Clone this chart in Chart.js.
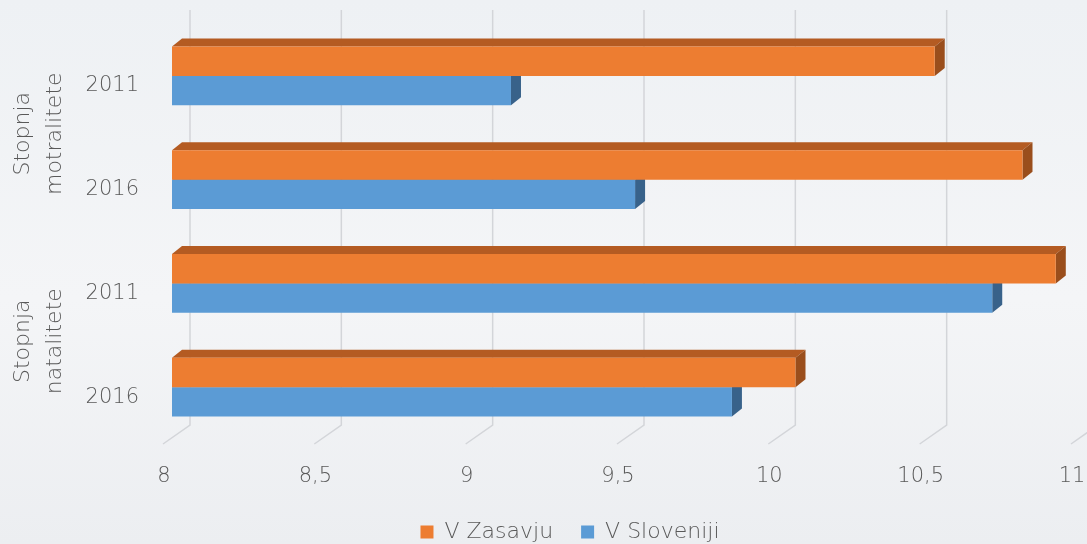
<!DOCTYPE html>
<html>
<head>
<meta charset="utf-8">
<script src="https://cdn.jsdelivr.net/npm/chart.js@4"></script>
<style>
  html, body { margin: 0; padding: 0; }
  body {
    width: 1087px; height: 544px; overflow: hidden;
    background: linear-gradient(#eef1f4, #f4f5f7 55%, #eceef1);
  }
  #wrap { position: relative; width: 1087px; height: 544px; }
</style>
</head>
<body>
<div id="wrap"><canvas id="chart"></canvas></div>
<script>
const categories = ["2011", "2016", "2011", "2016"];
const groupLabels = [["Stopnja", "motralitete"], ["Stopnja", "natalitete"]];
const seriesNames = ["V Zasavju", "V Sloveniji"];
const zasavje = [10.52, 10.81, 10.92, 10.06];
const slovenija = [9.12, 9.53, 10.71, 9.85];
const xMin = 8, xMax = 11, xStep = 0.5;

const FONT = "'DejaVu Sans', sans-serif";
const WEIGHT = "200";
const TEXT = "#595959";
const DX = 10, DY = 8;   // depth of the 3D faces

// back wall grid + top/side faces, drawn under the front faces
const depthFaces = {
  id: "depthFaces",
  beforeDatasetsDraw(chart) {
    const ctx = chart.ctx;
    const xs = chart.scales.x;
    const area = chart.chartArea;
    ctx.save();
    ctx.strokeStyle = "#d3d5d9";
    ctx.lineWidth = 1.5;
    for (let v = xMin; v <= xMax; v += xStep) {
      const px = xs.getPixelForValue(v);
      ctx.beginPath();
      ctx.moveTo(px + 18, area.top - 14);
      ctx.lineTo(px + 18, area.bottom - 14);
      ctx.lineTo(px - 9, area.bottom + 5);
      ctx.stroke();
    }
    chart.data.datasets.forEach((ds, i) => {
      chart.getDatasetMeta(i).data.forEach(bar => {
        const top = bar.y - bar.height / 2;
        const bottom = bar.y + bar.height / 2;
        const left = Math.max(bar.base, area.left);
        ctx.fillStyle = ds.topColor;
        ctx.beginPath();
        ctx.moveTo(left, top);
        ctx.lineTo(left + DX, top - DY);
        ctx.lineTo(bar.x + DX, top - DY);
        ctx.lineTo(bar.x, top);
        ctx.closePath();
        ctx.fill();
        ctx.fillStyle = ds.sideColor;
        ctx.beginPath();
        ctx.moveTo(bar.x, top);
        ctx.lineTo(bar.x + DX, top - DY);
        ctx.lineTo(bar.x + DX, bottom - DY);
        ctx.lineTo(bar.x, bottom);
        ctx.closePath();
        ctx.fill();
      });
    });
    ctx.restore();
  }
};

// rotated group titles on the left
const groupTitles = {
  id: "groupTitles",
  afterDraw(chart) {
    const ctx = chart.ctx;
    const ys = chart.scales.y;
    ctx.save();
    ctx.fillStyle = TEXT;
    ctx.font = WEIGHT + " 22px " + FONT;
    ctx.textAlign = "center";
    ctx.textBaseline = "alphabetic";
    groupLabels.forEach((lines, g) => {
      const yc = (ys.getPixelForValue(2 * g) + ys.getPixelForValue(2 * g + 1)) / 2 + 6;
      [29, 61].forEach((bx, k) => {
        ctx.save();
        ctx.translate(bx, yc);
        ctx.rotate(-Math.PI / 2);
        ctx.fillText(lines[k], 0, 0);
        ctx.restore();
      });
    });
    ctx.restore();
  }
};

// legend sits lower and further right than Chart.js puts it;
// give x labels room below the axis box
const layoutFix = {
  id: "layoutFix",
  afterLayout(chart) {
    const lg = chart.legend;
    const h = lg.bottom - lg.top;
    lg.top = 493;
    lg.bottom = lg.top + h;
    lg.left += 30;
    lg.right += 30;
    chart.scales.x.bottom += 20;
  }
};

new Chart(document.getElementById("chart"), {
  type: "bar",
  data: {
    labels: categories,
    datasets: [
      { label: seriesNames[0], data: zasavje, backgroundColor: "#ED7D31",
        topColor: "#B45B22", sideColor: "#9A4E1C" },
      { label: seriesNames[1], data: slovenija, backgroundColor: "#5B9BD5",
        topColor: "#44739E", sideColor: "#38628A" }
    ]
  },
  options: {
    indexAxis: "y",
    responsive: true,
    maintainAspectRatio: false,
    animation: false,
    layout: { padding: { top: 24, left: 0, right: 7, bottom: 0 } },
    datasets: { bar: { base: xMin, categoryPercentage: 0.566, barPercentage: 1.0, borderWidth: 0 } },
    scales: {
      x: {
        min: xMin, max: xMax,
        grid: { display: false },
        border: { display: false },
        ticks: {
          stepSize: xStep,
          padding: 17,
          labelOffset: -8,
          color: TEXT,
          font: { family: FONT, size: 21, weight: WEIGHT },
          callback: v => String(v).replace(".", ",")
        },
        afterFit(s) {
          s.paddingLeft = 0;
          s.paddingRight = 0;
          s.height = s.chart.height - 24 - 415 - s.chart.legend.height;
        }
      },
      y: {
        grid: { display: false },
        border: { display: false },
        ticks: {
          padding: 25,
          labelOffset: 10,
          color: TEXT,
          font: { family: FONT, size: 21, weight: WEIGHT }
        },
        afterFit(s) {
          s.width = 172;
          s.paddingTop = 0;
          s.paddingBottom = 0;
        }
      }
    },
    plugins: {
      legend: {
        position: "bottom",
        labels: {
          boxWidth: 13, boxHeight: 13, padding: 28,
          color: TEXT,
          font: { family: FONT, size: 22, weight: WEIGHT }
        }
      },
      tooltip: { enabled: false }
    }
  },
  plugins: [depthFaces, groupTitles, layoutFix]
});
</script>
</body>
</html>
